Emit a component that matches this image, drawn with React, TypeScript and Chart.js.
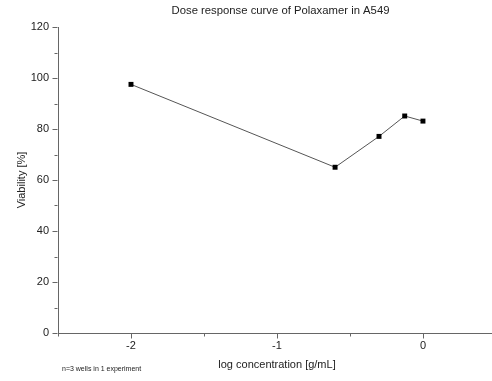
import React, { useEffect, useRef } from "react";
import { Chart, registerables } from "chart.js";

Chart.register(...registerables);

const logConcentration = [-2, -0.602, -0.301, -0.125, 0];
const viability = [97.5, 65.0, 77.1, 85.1, 83.1];
const xMajorTicks = [-2, -1, 0];
const xMinorTicks = [-2.5, -1.5, -0.5];
const yMajorTicks = [0, 20, 40, 60, 80, 100, 120];
const yMinorTicks = [10, 30, 50, 70, 90, 110];

const chartTitle = "Dose response curve of Polaxamer in A549";
const xTitle = "log concentration [g/mL]";
const yTitle = "Viability [%]";
const footnote = "n=3 wells in 1 experiment";

const FONT = "'Liberation Sans', Arial, sans-serif";
const AXIS_COLOR = "#666666";
const TEXT_COLOR = "#222222";

const decorPlugin = {
  id: "decor",
  afterDraw(chart: any) {
    const { ctx, chartArea } = chart;
    const xs = chart.scales.x;
    const ys = chart.scales.y;
    ctx.save();
    ctx.strokeStyle = AXIS_COLOR;
    ctx.lineWidth = 1;
    ctx.beginPath();
    const yb = Math.round(chartArea.bottom) + 0.5;
    xMajorTicks.forEach((v) => {
      const px = Math.round(xs.getPixelForValue(v)) + 0.5;
      ctx.moveTo(px, yb);
      ctx.lineTo(px, yb + 5);
    });
    xMinorTicks.forEach((v) => {
      const px = Math.round(xs.getPixelForValue(v)) + 0.5;
      ctx.moveTo(px, yb);
      ctx.lineTo(px, yb + 3);
    });
    const xl = Math.round(chartArea.left) - 0.5;
    yMajorTicks.forEach((v) => {
      const py = Math.round(ys.getPixelForValue(v)) + 0.5;
      ctx.moveTo(xl, py);
      ctx.lineTo(xl - 5, py);
    });
    yMinorTicks.forEach((v) => {
      const py = Math.round(ys.getPixelForValue(v)) + 0.5;
      ctx.moveTo(xl, py);
      ctx.lineTo(xl - 3, py);
    });
    ctx.stroke();

    ctx.fillStyle = TEXT_COLOR;
    ctx.textAlign = "center";
    ctx.textBaseline = "middle";
    ctx.font = `11.3px ${FONT}`;
    ctx.fillText(chartTitle, 280.5, 11);
    ctx.font = `11px ${FONT}`;
    ctx.fillText(xTitle, 277, 365);
    ctx.save();
    ctx.translate(22, (chartArea.top + chartArea.bottom) / 2);
    ctx.rotate(-Math.PI / 2);
    ctx.fillText(yTitle, 0, 0);
    ctx.restore();
    ctx.textAlign = "left";
    ctx.font = `7px ${FONT}`;
    ctx.fillText(footnote, 62, 369);
    ctx.restore();
  },
};

export default function App() {
  const ref = useRef<HTMLCanvasElement>(null);
  useEffect(() => {
    document.body.style.margin = "0";
    const canvas = ref.current!;
    const chart = new Chart(canvas, {
      type: "scatter",
      data: {
        datasets: [
          {
            data: logConcentration.map((x, i) => ({ x, y: viability[i] })),
            showLine: true,
            borderColor: "#555555",
            borderWidth: 1,
            pointStyle: "rect",
            pointRadius: 3.5,
            pointBackgroundColor: "#000000",
            pointBorderColor: "#000000",
            pointBorderWidth: 0,
          },
        ],
      },
      options: {
        animation: false,
        responsive: false,
        maintainAspectRatio: false,
        layout: {
          autoPadding: false,
          padding: { top: 27, left: 0, right: 0, bottom: 0 },
        },
        plugins: {
          legend: { display: false },
          title: { display: false },
          tooltip: { enabled: false },
        },
        scales: {
          x: {
            type: "linear",
            bounds: "data",
            min: -2.5,
            max: 0.473,
            grid: { display: false, drawTicks: true, tickLength: 5 },
            border: { display: true, color: AXIS_COLOR, width: 1 },
            ticks: {
              stepSize: 0.5,
              includeBounds: false,
              padding: 1,
              color: TEXT_COLOR,
              font: { family: FONT, size: 11 },
              maxRotation: 0,
              autoSkip: false,
              callback: (v: any) =>
                xMajorTicks.includes(Number(v)) ? String(v) : "",
            },
            afterFit: (s: any) => {
              s.height = 48;
              s.paddingLeft = 0;
              s.paddingRight = 0;
            },
          },
          y: {
            type: "linear",
            min: 0,
            max: 120,
            grid: { display: false, drawTicks: true, tickLength: 5 },
            border: { display: true, color: AXIS_COLOR, width: 1 },
            ticks: {
              stepSize: 10,
              padding: 4,
              color: TEXT_COLOR,
              font: { family: FONT, size: 11 },
              autoSkip: false,
              callback: (v: any) =>
                yMajorTicks.includes(Number(v)) ? String(v) : "",
            },
            afterFit: (s: any) => {
              s.width = 58;
            },
          },
        },
      },
      plugins: [decorPlugin],
    });
    return () => chart.destroy();
  }, []);
  return (
    <div style={{ width: 492, height: 381 }}>
      <canvas ref={ref} width={492} height={381} style={{ display: "block" }} />
    </div>
  );
}
